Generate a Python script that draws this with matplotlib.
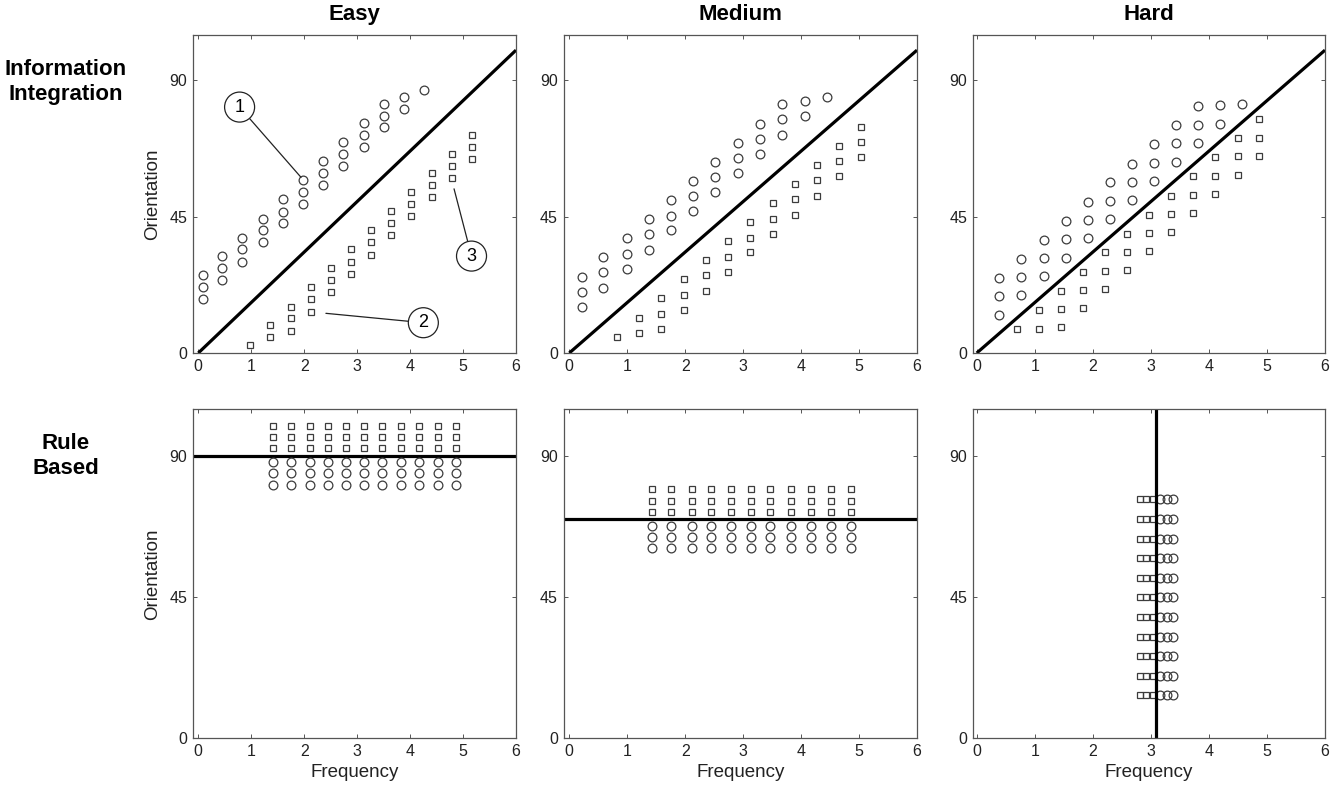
import matplotlib
matplotlib.use('Agg')
import matplotlib.pyplot as plt

plt.rcParams['font.family'] = ['Liberation Sans', 'DejaVu Sans']

# ---------------- labels ----------------
difficulties = ['Easy', 'Medium', 'Hard']
row_labels = ['Information\nIntegration', 'Rule\nBased']
x_ticks = [0, 1, 2, 3, 4, 5, 6]
y_ticks = [0, 45, 90]
x_label = 'Frequency'
y_label = 'Orientation'

# ---------------- Information-integration: Easy ----------------
ii_easy_circle_cols = [0.08, 0.45, 0.83, 1.22, 1.60, 1.98, 2.36, 2.74, 3.12, 3.50, 3.88, 4.27]
ii_easy_circle_ys = [[25.7, 21.7, 17.8], [31.9, 28.0, 24.0], [38.1, 34.2, 30.2],
                     [44.4, 40.5, 36.6], [50.7, 46.7, 42.8], [57.0, 53.0, 49.1],
                     [63.3, 59.3, 55.4], [69.6, 65.7, 61.7], [76.0, 72.1, 68.1],
                     [82.3, 78.4, 74.5], [84.6, 80.6], [86.9]]
ii_easy_square_cols = [0.98, 1.36, 1.75, 2.12, 2.50, 2.88, 3.27, 3.64, 4.02, 4.41, 4.79, 5.17]
ii_easy_square_ys = [[2.7], [9.1, 5.2], [15.3, 11.4, 7.3], [21.7, 17.8, 13.5],
                     [28.0, 24.0, 20.0], [34.2, 30.2, 26.2], [40.5, 36.6, 32.5],
                     [46.8, 42.9, 38.8], [53.0, 49.1, 45.1], [59.4, 55.4, 51.5],
                     [65.8, 61.7, 57.8], [72.1, 68.0, 64.1]]

# ---------------- Information-integration: Medium ----------------
ii_med_circle_cols = [0.22, 0.59, 0.99, 1.37, 1.76, 2.14, 2.52, 2.91, 3.29, 3.67, 4.06, 4.44]
ii_med_circle_ys = [[25.2, 20.2, 15.3], [31.6, 26.6, 21.6], [37.9, 32.8, 27.9],
                    [44.2, 39.2, 34.1], [50.5, 45.4, 40.5], [56.9, 51.8, 46.8],
                    [63.1, 58.2, 53.1], [69.4, 64.4, 59.4], [75.7, 70.7, 65.8],
                    [82.1, 77.1, 72.0], [83.3, 78.3], [84.6]]
ii_med_square_cols = [0.83, 1.21, 1.59, 1.98, 2.36, 2.74, 3.12, 3.51, 3.89, 4.28, 4.66, 5.04]
ii_med_square_ys = [[5.4], [11.7, 6.7], [18.0, 13.0, 7.9], [24.3, 19.2, 14.2],
                    [30.6, 25.6, 20.5], [36.9, 31.8, 26.8], [43.1, 38.1, 33.2],
                    [49.5, 44.3, 39.4], [55.8, 50.7, 45.7], [62.0, 57.0, 52.0],
                    [68.4, 63.3, 58.4], [74.6, 69.6, 64.7]]

# ---------------- Information-integration: Hard ----------------
ii_hard_circle_cols = [0.39, 0.77, 1.16, 1.53, 1.92, 2.30, 2.68, 3.06, 3.43, 3.81, 4.19, 4.57]
ii_hard_circle_ys = [[24.9, 18.9, 12.7], [31.2, 25.1, 19.0], [37.4, 31.4, 25.4],
                     [43.7, 37.6, 31.5], [49.9, 43.9, 37.9], [56.3, 50.2, 44.1],
                     [62.5, 56.5, 50.5], [68.9, 62.9, 56.9], [75.2, 69.2, 63.1],
                     [81.4, 75.4, 69.4], [81.8, 75.7], [82.1]]
ii_hard_square_cols = [0.69, 1.07, 1.45, 1.83, 2.21, 2.59, 2.97, 3.35, 3.73, 4.11, 4.50, 4.87]
ii_hard_square_ys = [[7.9], [8.0, 14.2], [8.6, 14.5, 20.5], [14.7, 20.9, 26.8],
                     [21.2, 27.1, 33.2], [27.3, 33.3, 39.4], [33.6, 39.7, 45.7],
                     [39.8, 46.0, 52.0], [46.2, 52.3, 58.4], [52.5, 58.6, 64.7],
                     [58.7, 64.9, 70.9], [65.1, 71.1, 77.2]]

# diagonal decision bound (same for all II panels)
ii_bound_x = [0, 6]
ii_bound_y = [0, 100]

# ---------------- Rule-based ----------------
rb_cols = [1.42, 1.76, 2.11, 2.45, 2.79, 3.13, 3.47, 3.83, 4.17, 4.52, 4.86]
rb_easy_square_ys = [92.6, 96.2, 99.8]
rb_easy_circle_ys = [88.3, 84.6, 80.9]
rb_easy_bound = 90
rb_med_square_ys = [72.2, 75.8, 79.5]
rb_med_circle_ys = [67.9, 64.3, 60.6]
rb_med_bound = 70
rb_hard_rows = [13.8, 20.0, 26.3, 32.4, 38.7, 45.0, 51.2, 57.4, 63.7, 70.0, 76.3]
rb_hard_square_xs = [2.81, 2.92, 3.04]
rb_hard_circle_xs = [3.15, 3.27, 3.38]
rb_hard_bound = 3.09

# annotations in Easy II panel: (label, point xy, circle centre xy)
annot_labels = ['1', '2', '3']
annot_points = [(1.94, 58.0), (2.41, 13.1), (4.83, 54.2)]
annot_centres = [(0.78, 81.2), (4.25, 10.0), (5.16, 32.0)]

# ---------------- figure ----------------
W, H = 1339, 787
fig = plt.figure(figsize=(W / 100, H / 100), dpi=100)

col_px = [(193, 516), (563.5, 917), (972.7, 1325)]
row_px = [(35, 353), (409.3, 738.3)]
xlims = [(-0.1, 6), (-0.1, 6), (-0.07, 6)]

mk_col = '#3c3c3c'
circ_kw = dict(marker='o', ms=6.3, mfc='none', mec=mk_col, mew=0.9, ls='none')
sq_kw = dict(marker='s', ms=5.0, mfc='none', mec=mk_col, mew=0.9, ls='none')
line_kw = dict(color='black', lw=2.3, solid_capstyle='butt')

axes = [[None] * 3 for _ in range(2)]
for r in range(2):
    for c in range(3):
        x0, x1 = col_px[c]
        ytop, ybot = row_px[r]
        ax = fig.add_axes([x0 / W, 1 - ybot / H, (x1 - x0) / W, (ybot - ytop) / H])
        ax.set_xlim(*xlims[c])
        ax.set_ylim(0, 105)
        ax.set_xticks(x_ticks)
        ax.set_yticks(y_ticks)
        ax.tick_params(direction='in', length=3, width=0.7, top=True, right=True,
                       labelsize=11.5, pad=4, colors='#555555', labelcolor='#222222')
        for s in ax.spines.values():
            s.set_color('#555555')
            s.set_linewidth(0.9)
        axes[r][c] = ax


def scatter_cols(ax, cols, ys, kw):
    for x, col_y in zip(cols, ys):
        ax.plot([x] * len(col_y), col_y, **kw)


# II panels
ii_sets = [
    (ii_easy_circle_cols, ii_easy_circle_ys, ii_easy_square_cols, ii_easy_square_ys),
    (ii_med_circle_cols, ii_med_circle_ys, ii_med_square_cols, ii_med_square_ys),
    (ii_hard_circle_cols, ii_hard_circle_ys, ii_hard_square_cols, ii_hard_square_ys),
]
for c, (cc, cy, sc, sy) in enumerate(ii_sets):
    ax = axes[0][c]
    ax.plot(ii_bound_x, ii_bound_y, **line_kw)
    scatter_cols(ax, cc, cy, circ_kw)
    scatter_cols(ax, sc, sy, sq_kw)

# annotations
ax = axes[0][0]
for lab, pt, ctr in zip(annot_labels, annot_points, annot_centres):
    ax.annotate(lab, xy=pt, xytext=ctr, ha='center', va='center', fontsize=13,
                bbox=dict(boxstyle='circle,pad=0.36', fc='white', ec='#222222', lw=0.9),
                arrowprops=dict(arrowstyle='-', color='#222222', lw=0.9, shrinkA=0, shrinkB=0))

# RB panels
ax = axes[1][0]
ax.axhline(rb_easy_bound, **line_kw)
for x in rb_cols:
    ax.plot([x] * len(rb_easy_square_ys), rb_easy_square_ys, **sq_kw)
    ax.plot([x] * len(rb_easy_circle_ys), rb_easy_circle_ys, **circ_kw)

ax = axes[1][1]
ax.axhline(rb_med_bound, **line_kw)
for x in rb_cols:
    ax.plot([x] * len(rb_med_square_ys), rb_med_square_ys, **sq_kw)
    ax.plot([x] * len(rb_med_circle_ys), rb_med_circle_ys, **circ_kw)

ax = axes[1][2]
for y in rb_hard_rows:
    ax.plot(rb_hard_square_xs, [y] * len(rb_hard_square_xs), **sq_kw)
    ax.plot(rb_hard_circle_xs, [y] * len(rb_hard_circle_xs), **circ_kw)
ax.axvline(rb_hard_bound, **line_kw)

# titles, labels
for c in range(3):
    axes[0][c].set_title(difficulties[c], fontsize=16, fontweight='bold', pad=11)
    axes[1][c].set_xlabel(x_label, fontsize=13.5, labelpad=4, color='#222222')
for r in range(2):
    axes[r][0].set_ylabel(y_label, fontsize=13.5, labelpad=6, color='#222222')

fig.text(66 / W, 1 - 82 / H, row_labels[0], ha='center', va='center',
         fontsize=16, fontweight='bold', linespacing=1.3)
fig.text(66 / W, 1 - 456 / H, row_labels[1], ha='center', va='center',
         fontsize=16, fontweight='bold', linespacing=1.3)

fig.savefig('out.png', dpi=100, facecolor='white')
